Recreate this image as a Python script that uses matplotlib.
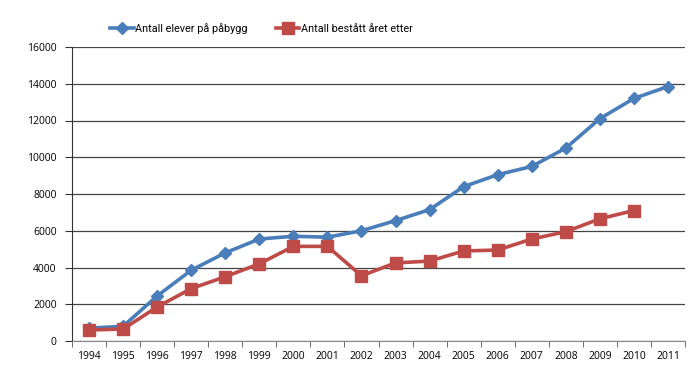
import matplotlib
matplotlib.use("Agg")
import matplotlib.pyplot as plt
import numpy as np

plt.rcParams['font.family'] = ['Open Sans', 'DejaVu Sans']

years = ['1994', '1995', '1996', '1997', '1998', '1999', '2000', '2001', '2002',
         '2003', '2004', '2005', '2006', '2007', '2008', '2009', '2010', '2011']
elever = [700, 800, 2450, 3850, 4800, 5550, 5700, 5650, 6000,
          6550, 7150, 8400, 9050, 9500, 10500, 12100, 13200, 13850]
bestatt = [600, 650, 1850, 2850, 3500, 4200, 5150, 5150, 3550,
           4250, 4350, 4900, 4950, 5550, 5950, 6650, 7100]
yticks = [0, 2000, 4000, 6000, 8000, 10000, 12000, 14000, 16000]

fig = plt.figure(figsize=(7, 3.86), dpi=100)
ax = fig.add_axes([72/700, 1-341/386, (685-72)/700, (341-47)/386])

blue = '#4a7ebb'
red = '#be4b48'
x = np.arange(len(years))
ax.plot(x, elever, color=blue, lw=2.6, marker='D', ms=6.5, label='Antall elever på påbygg', zorder=3)
ax.plot(x[:len(bestatt)], bestatt, color=red, lw=2.6, marker='s', ms=8, label='Antall bestått året etter', zorder=4)

ax.set_xlim(-0.5, len(years)-0.5)
ax.set_ylim(0, 16000)
ax.set_yticks(yticks)
ax.set_yticklabels([str(v) for v in yticks], fontsize=7.5)
ax.set_xticks(x)
ax.set_xticklabels(years, fontsize=7.5)
ax.tick_params(axis='x', length=0, pad=7)
ax.set_xticks(np.arange(-0.5, len(years), 1), minor=True)
ax.tick_params(axis='x', which='minor', length=4, color='#555555', direction='out')
ax.tick_params(axis='y', length=5, color='#333333', pad=6)
ax.grid(axis='y', color='#444444', lw=0.9)
ax.set_axisbelow(True)
for s in ['top', 'right']:
    ax.spines[s].set_visible(False)
ax.spines['left'].set_color('#333333')
ax.spines['bottom'].set_color('#888888')

ax.legend(loc='center left', bbox_to_anchor=(0.062, 1.064), ncol=2, frameon=False,
          prop={'family': ['Roboto', 'Open Sans'], 'size': 7.8},
          handlelength=2.2, columnspacing=2.6, handletextpad=0.1,
          borderpad=0, borderaxespad=0)

fig.savefig('out.png', dpi=100)
